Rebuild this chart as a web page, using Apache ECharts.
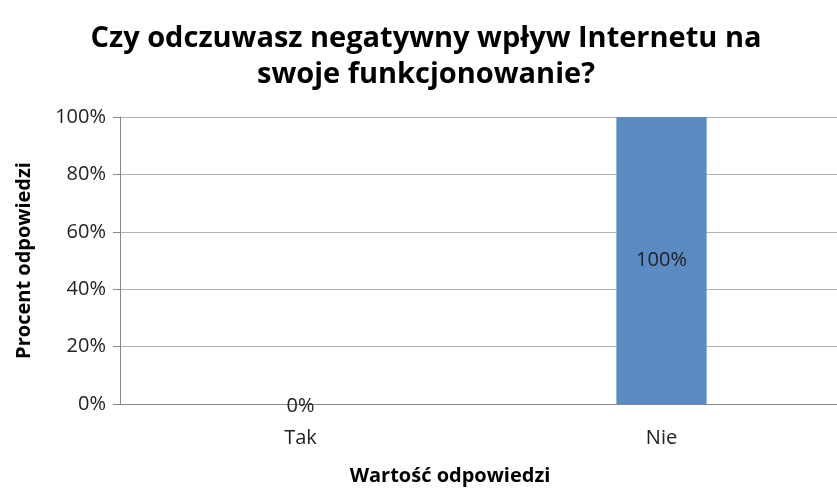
<!DOCTYPE html>
<html>
<head>
<meta charset="utf-8">
<script src="https://cdn.jsdelivr.net/npm/echarts@6/dist/echarts.min.js"></script>
<style>
  html, body { margin: 0; padding: 0; background: #fff; }
  #chart { width: 837px; height: 491px; }
</style>
</head>
<body>
<div id="chart"></div>
<script>
// dane
const categories = ['Tak', 'Nie'];
const values = [0, 100];
const yTicks = [0, 20, 40, 60, 80, 100];

const chart = echarts.init(document.getElementById('chart'));
const font = '"Open Sans", "DejaVu Sans", sans-serif';

chart.setOption({
    animation: false,
    title: {
        text: 'Czy odczuwasz negatywny wpływ Internetu na\nswoje funkcjonowanie?',
        left: 421,
        textAlign: 'center',
        top: 16,
        textStyle: {
            fontFamily: font,
            fontSize: 29,
            fontWeight: 'bold',
            color: '#000',
            lineHeight: 36
        }
    },
    grid: {
        left: 120,
        right: -5,
        top: 117,
        bottom: 87,
        outerBoundsMode: 'none'
    },
    xAxis: {
        type: 'category',
        data: categories,
        name: 'Wartość odpowiedzi',
        nameLocation: 'middle',
        nameGap: 62,
        nameTextStyle: {
            fontFamily: font,
            fontSize: 20,
            fontWeight: 'bold',
            color: '#000',
            padding: [0, 62, 0, 0]
        },
        axisLine: { lineStyle: { color: '#888', width: 1 } },
        axisTick: { show: false },
        axisLabel: {
            fontFamily: font,
            fontSize: 20,
            color: '#222',
            margin: 24
        }
    },
    yAxis: {
        type: 'value',
        min: yTicks[0],
        max: yTicks[yTicks.length - 1],
        interval: yTicks[1] - yTicks[0],
        name: 'Procent odpowiedzi',
        nameLocation: 'middle',
        nameGap: 86,
        nameTextStyle: {
            fontFamily: font,
            fontSize: 20,
            fontWeight: 'bold',
            color: '#000'
        },
        axisLine: { show: true, lineStyle: { color: '#888', width: 1 } },
        axisTick: { show: true, length: 7, lineStyle: { color: '#888' } },
        axisLabel: {
            fontFamily: font,
            fontSize: 20,
            color: '#222',
            margin: 14,
            formatter: '{value}%'
        },
        splitLine: { lineStyle: { color: '#b4b4b4', width: 1 } }
    },
    series: [{
        type: 'bar',
        data: values.map(v => ({
            value: v,
            label: v === 0 ? { position: 'top', distance: -12 } : { position: 'inside' }
        })),
        barWidth: '25%',
        itemStyle: { color: '#5B8BC3' },
        label: {
            show: true,
            fontFamily: font,
            fontSize: 20,
            color: '#222',
            formatter: '{c}%'
        }
    }]
});
</script>
</body>
</html>
